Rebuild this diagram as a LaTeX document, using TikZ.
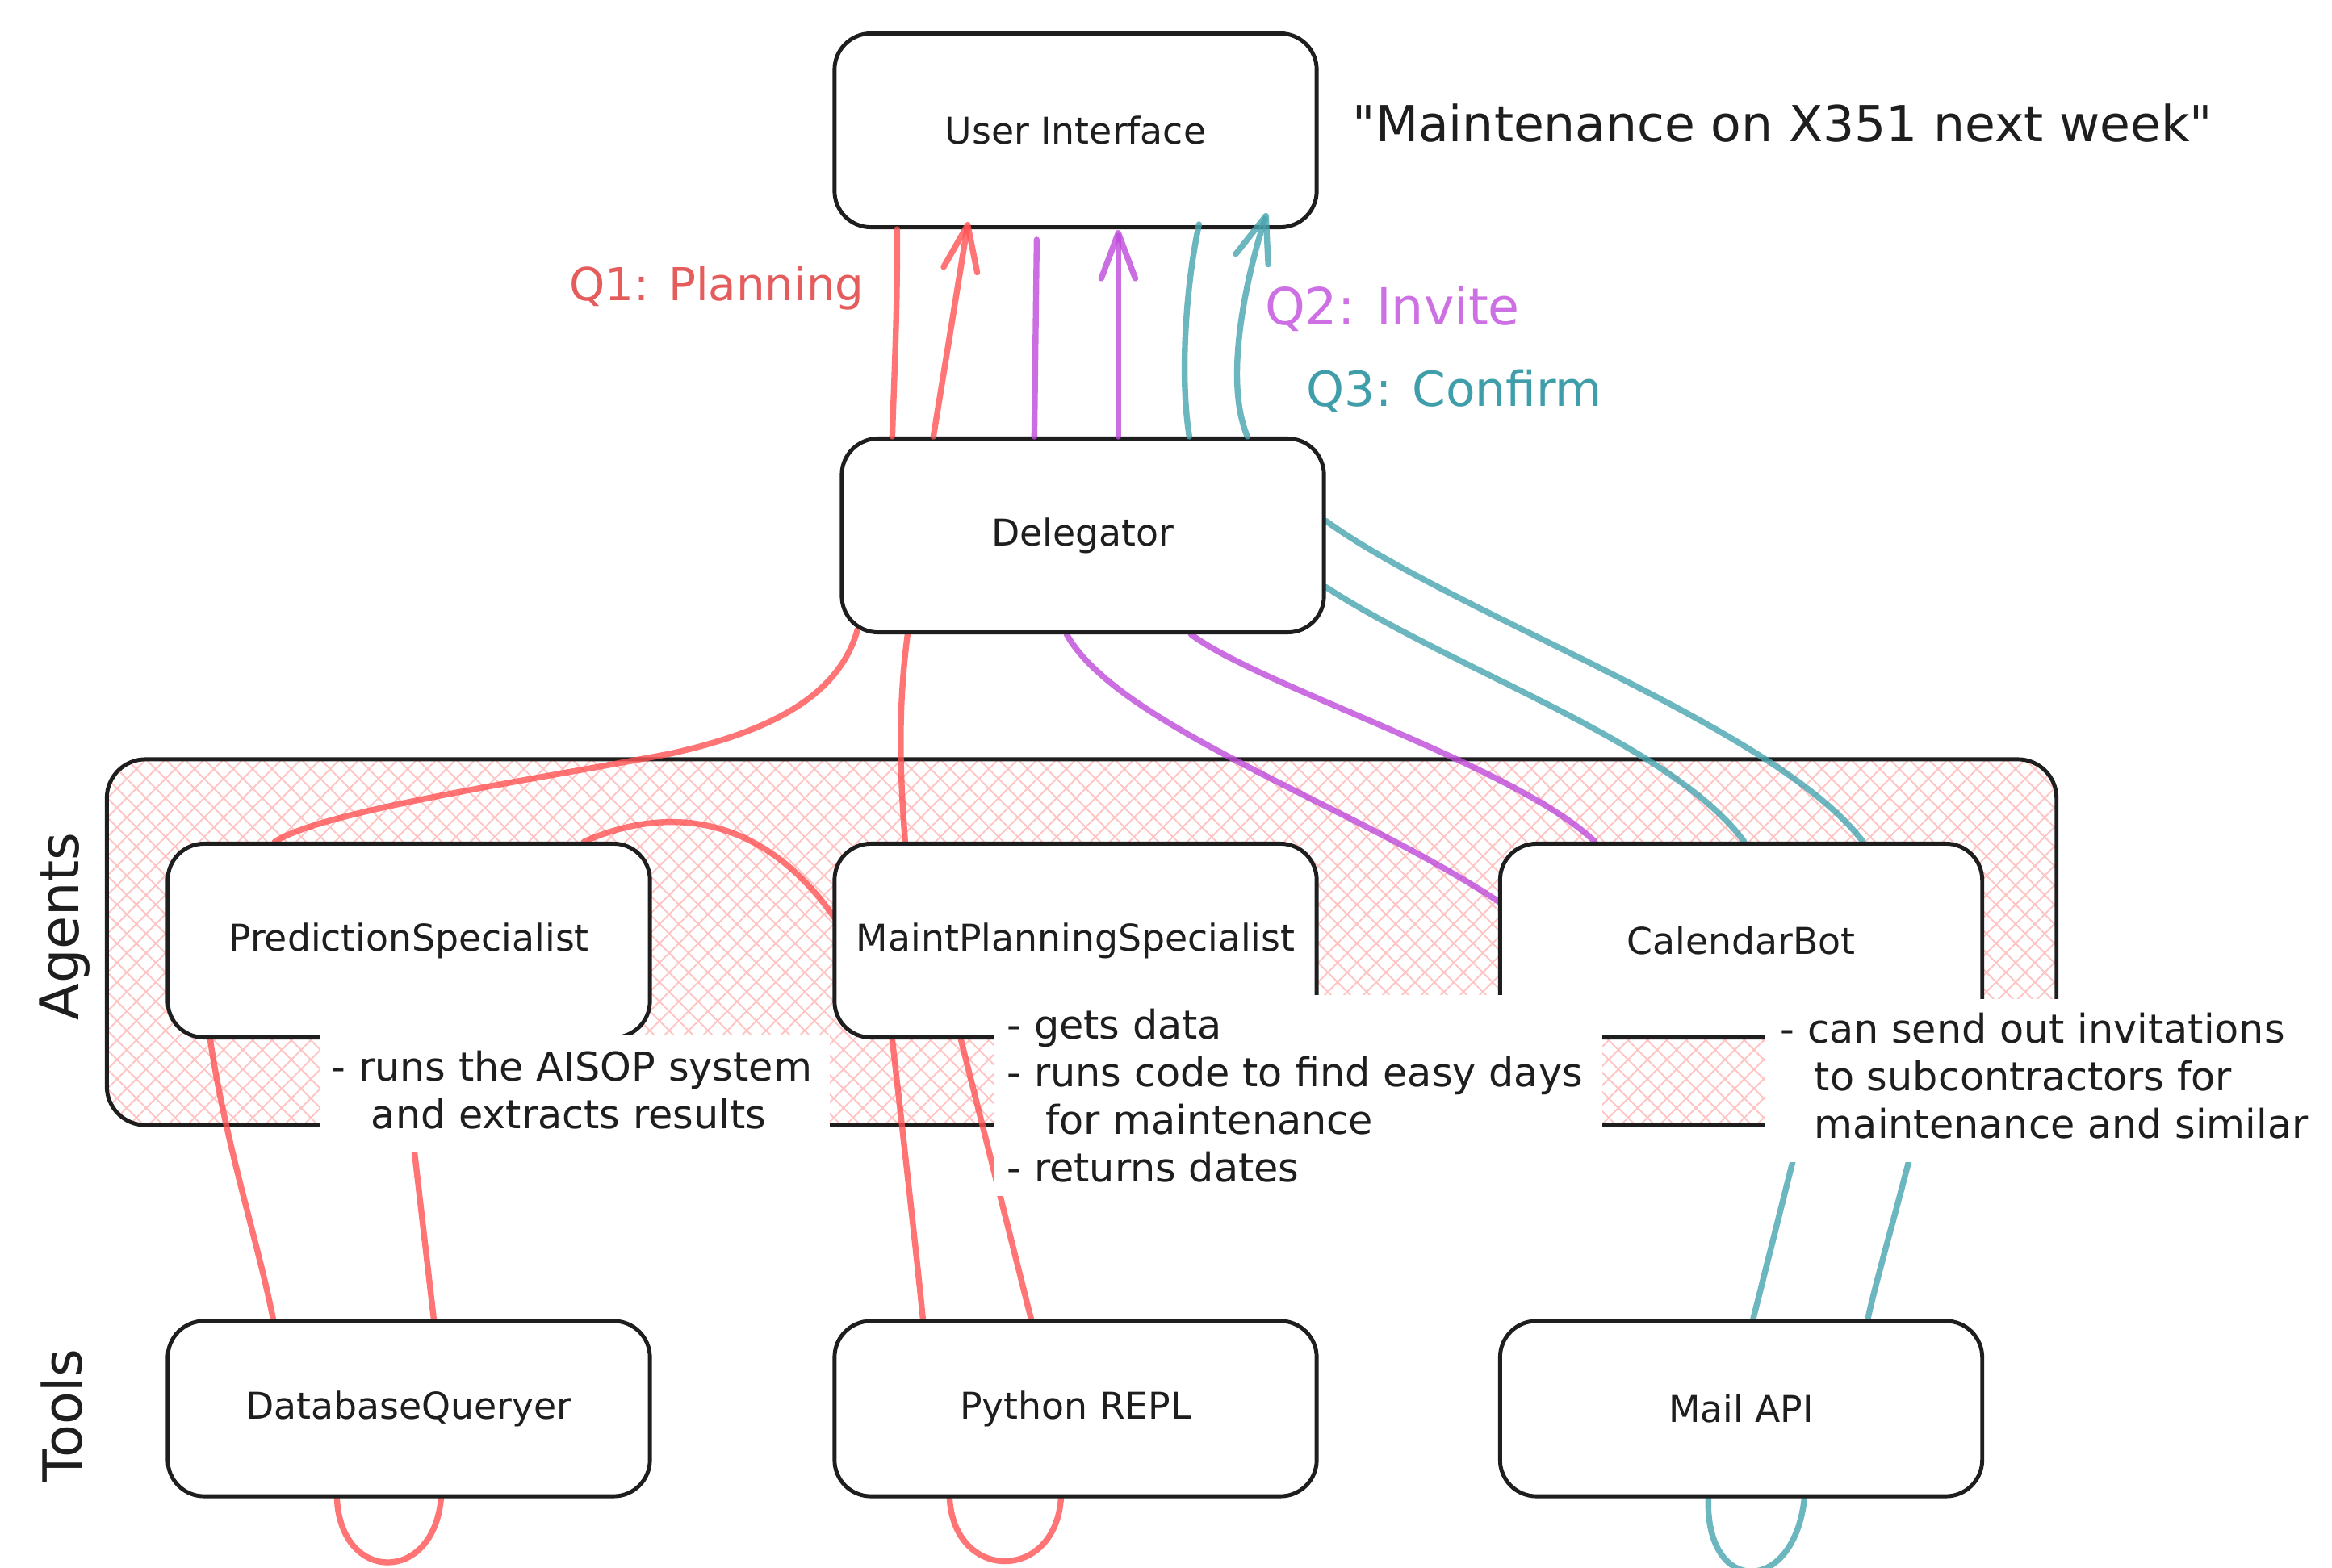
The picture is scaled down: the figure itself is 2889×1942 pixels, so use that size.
\documentclass[tikz,border=0pt]{standalone}
\usepackage{fontspec}
\setmainfont[Ligatures=TeXOff]{DejaVu Sans}
\usetikzlibrary{arrows.meta}
\definecolor{ink}{HTML}{1E1E1E}
\definecolor{cred}{HTML}{FF5252}
\definecolor{cpur}{HTML}{BE4AD9}
\definecolor{cteal}{HTML}{47A4B0}
\definecolor{lred}{HTML}{E55C5C}
\definecolor{lpur}{HTML}{CD70E4}
\definecolor{lteal}{HTML}{409EAA}
\definecolor{hatchc}{HTML}{FFC4C4}
\pgfdeclarelayer{hatch}
\pgfdeclarelayer{lines}
\pgfdeclarelayer{front}
\pgfsetlayers{hatch,lines,main,front}
\begin{document}
\begin{tikzpicture}[x=0.01cm,y=-0.01cm,
  box/.style={draw=ink, line width=1.4pt, fill=white, rounded corners=0.45cm,
    minimum width=5.97cm, minimum height=2.40cm, inner sep=0pt,
    font=\fontsize{13}{15}\selectfont, text=ink},
  toolbox/.style={box, minimum height=2.17cm},
  conn/.style={line width=2.1pt, line cap=round, draw opacity=0.8},
  cr/.style={conn, draw=cred},
  cp/.style={conn, draw=cpur},
  ct/.style={conn, draw=cteal},
  tip/.style={-{Straight Barb[length=16pt,width=12pt,round]}},
  note/.style={anchor=base west, inner sep=0pt, text=ink, font=\fontsize{14}{16.8}\selectfont},
  qlabel/.style={anchor=base, inner sep=0pt}
]
\useasboundingbox (0,0) rectangle (2889,1942);

% nodes
\node[box] (ui) at (1332.5,161.5) {User Interface};
\node[box] (del) at (1341.5,663.5) {Delegator};
\node[box] (ps) at (506.5,1165.5) {PredictionSpecialist};
\node[box] (mps) at (1332.5,1165.5) {MaintPlanningSpecialist};
\node[box] (cal) at (2157,1165.5) {CalendarBot};
\node[toolbox] (db) at (506.5,1745.5) {DatabaseQueryer};
\node[toolbox] (repl) at (1332.5,1745.5) {Python REPL};
\node[toolbox] (mail) at (2157,1745.5) {Mail API};

% agents container with hatch
\begin{pgfonlayer}{hatch}
  \begin{scope}
    \clip[rounded corners=0.48cm] (133,941) rectangle (2547,1394);
    \foreach \i in {-22,...,122} {
      \draw[hatchc, line width=0.55pt] ({133+24*\i},941) -- ++(453,453);
      \draw[hatchc, line width=0.55pt] ({133+24*\i},941) -- ++(-453,453);
    }
  \end{scope}
  \node[draw=ink, line width=1.4pt, rounded corners=0.48cm, minimum width=24.14cm,
    minimum height=4.53cm, inner sep=0pt] (agentsbox) at (1340,1167.5) {};
\end{pgfonlayer}

% connectors behind boxes
\begin{pgfonlayer}{lines}
  % Delegator -> agents
  \draw[cr] ([shift={(22,-6)}]del.south west) .. controls (1040,860) and (960,905) .. (830,934)
        .. controls (650,968) and (400,1005) .. ([shift={(135,0)}]ps.north west);
  \draw[cr] ([shift={(84,0)}]del.south west) .. controls (1112,880) and (1115,960) .. ([shift={(90,0)}]mps.north west);
  \draw[cr] ([shift={(518,0)}]ps.north west) .. controls (820,1000) and (950,1000) .. ([shift={(16,115)}]mps.north west);
  \draw[cp] ([shift={(281,0)}]del.south west) .. controls (1385,900) and (1680,1000) .. ([shift={(2,-47.5)}]cal.west);
  \draw[cp] ([shift={(435,0)}]del.south west) .. controls (1560,850) and (1880,950) .. ([shift={(120,0)}]cal.north west);
  \draw[ct] ([shift={(0,-18)}]del.east) .. controls (1800,760) and (2200,900) .. ([shift={(452,0)}]cal.north west);
  \draw[ct] ([shift={(0,64)}]del.east) .. controls (1800,830) and (2070,920) .. ([shift={(305,0)}]cal.north west);
  % agents -> tools
  \draw[cr] ([shift={(55,0)}]ps.south west) .. controls (280,1420) and (320,1540) .. ([shift={(133,0)}]db.north west);
  \draw[cr] ([shift={(292,0)}]ps.south west) -- ([shift={(332,0)}]db.north west);
  \draw[cr] ([shift={(74,0)}]mps.south west) .. controls (1118,1400) and (1135,1550) .. ([shift={(112,0)}]repl.north west);
  \draw[cr] ([shift={(159,0)}]mps.south west) -- ([shift={(246,0)}]repl.north west);
  \draw[ct] ([shift={(403,0)}]cal.south west) -- ([shift={(316,0)}]mail.north west);
  \draw[ct] ([shift={(542,0)}]cal.south west) .. controls (2380,1400) and (2330,1560) .. ([shift={(458,0)}]mail.north west);
  % tool loops
  \draw[cr] ([shift={(212,0)}]db.south west) .. controls +(5,106) and +(-9,106) .. ([shift={(341,0)}]db.south west);
  \draw[cr] ([shift={(145,0)}]repl.south west) .. controls +(6,104) and +(-7,104) .. ([shift={(283,0)}]repl.south west);
  \draw[ct] ([shift={(260.5,0)}]mail.south west) .. controls +(-4,121) and +(-13,121) .. ([shift={(379.5,0)}]mail.south west);
\end{pgfonlayer}

% Delegator <-> User Interface
\draw[cr] ([shift={(80,0)}]ui.south west) .. controls (1112,380) and (1108,460) .. ([shift={(65,0)}]del.north west);
\draw[cr, tip] ([shift={(116,0)}]del.north west) -- ([shift={(168,-9)}]ui.south west);
\draw[cp] ([shift={(253,13)}]ui.south west) -- ([shift={(241,0)}]del.north west);
\draw[cp, tip] ([shift={(345,0)}]del.north west) -- ([shift={(354,1)}]ui.south west);
\draw[ct] ([shift={(454,-6)}]ui.south west) .. controls (1468,360) and (1462,470) .. ([shift={(433,0)}]del.north west);
\draw[ct, tip] ([shift={(505,0)}]del.north west) .. controls (1515,470) and (1545,340) .. ([shift={(538,-20)}]ui.south west);

% labels
\node[anchor=base west, inner sep=0pt, text=ink, font=\fontsize{17.5}{20}\selectfont] (quote) at (1675,175) {"Maintenance on X351 next week"};
\node[qlabel, text=lred, font=\fontsize{16}{19}\selectfont] (q1) at (888,372) {Q1: Planning};
\node[qlabel, text=lpur, font=\fontsize{18}{21}\selectfont] (q2) at (1725,402) {Q2: Invite};
\node[qlabel, text=lteal, font=\fontsize{17}{20}\selectfont] (q3) at (1802,503) {Q3: Confirm};
\node[rotate=90, anchor=base, inner sep=0pt, text=ink, font=\fontsize{19}{22}\selectfont] (agentslbl) at (97,1148) {Agents};
\node[rotate=90, anchor=base, inner sep=0pt, text=ink, font=\fontsize{19}{22}\selectfont] (toolslbl) at (101,1754) {Tools};

% annotations
\begin{pgfonlayer}{front}
  \fill[white] (396,1283) rectangle (1028,1428);
  \fill[white] (1232,1233) rectangle (1985,1482);
  \fill[white] (2187,1238) rectangle (2889,1440);
  \node[note] (noteps) at (410,1339) {\vtop{\hbox{- runs the AISOP system}\hbox{\hspace{14pt}and extracts results}}};
  \node[note] (notemps) at (1247,1287) {\vtop{\hbox{- gets data}\hbox{- runs code to find easy days}\hbox{\hspace{13.5pt}for maintenance}\hbox{- returns dates}}};
  \node[note] (notecal) at (2205,1292) {\vtop{\hbox{- can send out invitations}\hbox{\hspace{12pt}to subcontractors for}\hbox{\hspace{12pt}maintenance and similar}}};
\end{pgfonlayer}
\end{tikzpicture}
\end{document}
